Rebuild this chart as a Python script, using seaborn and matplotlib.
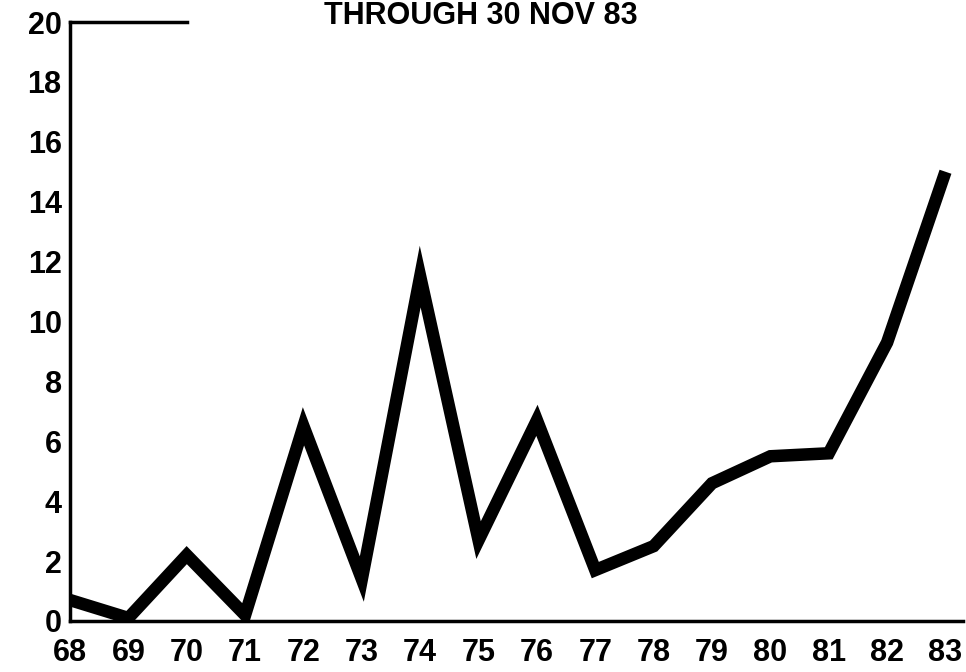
import numpy as np
import pandas as pd
import matplotlib
matplotlib.use("Agg")
import matplotlib.pyplot as plt
import seaborn as sns

# yearly values
years = [68, 69, 70, 71, 72, 73, 74, 75, 76, 77, 78, 79, 80, 81, 82, 83]
counts = [0.7, 0.1, 2.2, 0.2, 6.5, 1.4, 11.5, 2.7, 6.7, 1.7, 2.5, 4.6, 5.5, 5.6, 9.3, 15.0]
y_ticks = [0, 2, 4, 6, 8, 10, 12, 14, 16, 18, 20]
title = "THROUGH 30 NOV 83"

df = pd.DataFrame({"year": years, "count": counts})

sns.set_style("white")
plt.rcParams["font.family"] = ["Liberation Sans", "DejaVu Sans"]
plt.rcParams["text.color"] = "black"
plt.rcParams["xtick.color"] = "black"
plt.rcParams["ytick.color"] = "black"

fig = plt.figure(figsize=(9.66, 6.72), dpi=100)
ax = fig.add_axes([70 / 966, 51 / 672, 893 / 966, 599 / 672])

sns.lineplot(data=df, x="year", y="count", ax=ax, color="black", linewidth=9,
             solid_joinstyle="miter", solid_capstyle="butt")

ax.set_xlim(68, 83.3)
ax.set_ylim(0, 20)
ax.set_xticks(years)
ax.set_xticklabels([str(y) for y in years])
ax.set_yticks(y_ticks)
ax.set_yticklabels([str(t) for t in y_ticks])
ax.set_xlabel("")
ax.set_ylabel("")

ax.spines["right"].set_visible(False)
ax.spines["top"].set_bounds(68, 70)
for side in ["left", "bottom", "top"]:
    ax.spines[side].set_linewidth(2.5)
    ax.spines[side].set_color("black")

ax.tick_params(axis="both", direction="in", length=11, width=2, color="black")
ax.tick_params(axis="x", pad=12, labelsize=22)
ax.tick_params(axis="y", pad=6, labelsize=22)
for lab in ax.get_xticklabels() + ax.get_yticklabels():
    lab.set_fontweight("bold")

fig.text(0.498, 0.999, title, ha="center", va="top", fontsize=22,
         fontweight="bold")

fig.savefig("out.png", dpi=100, facecolor="white")
